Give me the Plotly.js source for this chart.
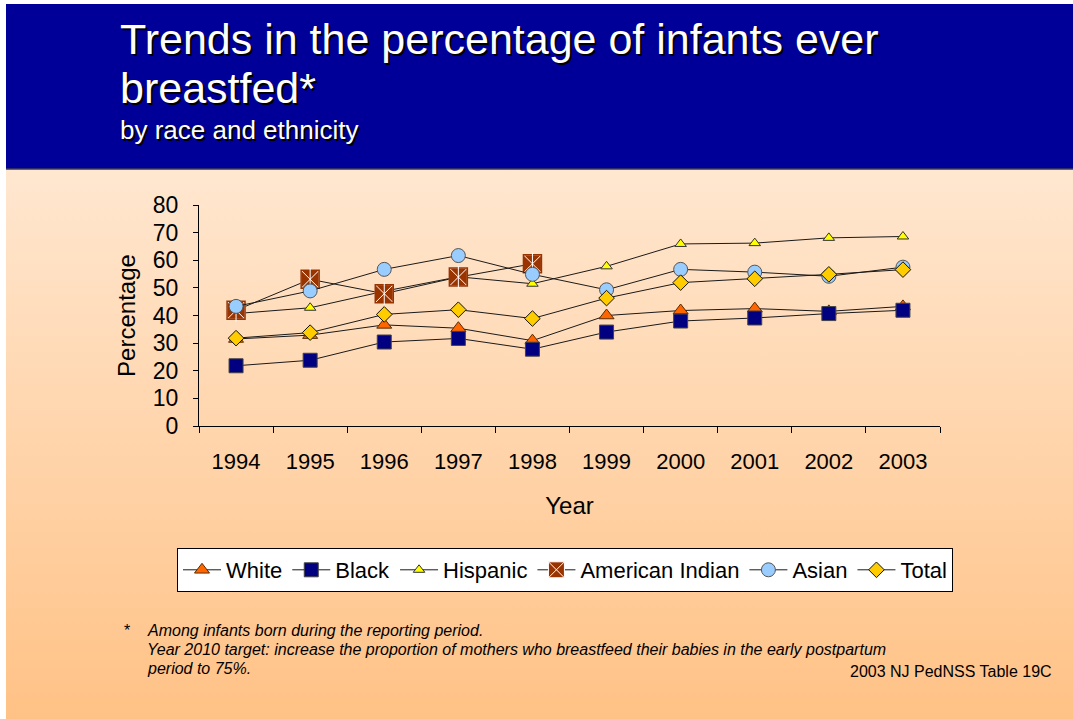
<!DOCTYPE html>
<html>
<head>
<meta charset="utf-8">
<script src="https://cdn.plot.ly/plotly-3.0.1.min.js"></script>
<style>
  html, body { margin: 0; padding: 0; background: #ffffff; }
  #wrap { position: relative; width: 1073px; height: 719px; overflow: hidden; }
  #bg { position: absolute; left: 6px; top: 4px; width: 1067px; height: 715px;
        background: linear-gradient(to bottom, #FFE7D0 0px, #FFE7D0 165px, #FFC286 715px); }
  #chart { position: absolute; left: 0; top: 0; width: 1073px; height: 719px; }
</style>
</head>
<body>
<div id="wrap">
  <div id="bg"></div>
  <div id="chart"></div>
</div>
<script>
// Percentage of infants ever breastfed, NJ PedNSS 1994-2003
const years = ['1994', '1995', '1996', '1997', '1998', '1999', '2000', '2001', '2002', '2003'];
const white = [31.5, 32.9, 36.6, 35.4, 30.9, 40.0, 41.8, 42.5, 41.5, 43.3];
const black = [21.8, 23.8, 30.4, 31.7, 27.8, 34.0, 38.0, 39.1, 40.7, 41.9];
const hispanic = [40.7, 42.8, 48.8, 54.0, 51.5, 57.8, 65.9, 66.2, 68.1, 68.6];
const americanIndian = [41.9, 53.1, 47.9, 53.9, 58.7, null, null, null, null, null];
const asian = [43.3, 48.9, 56.7, 61.7, 54.9, 49.3, 56.7, 55.7, 54.2, 57.5];
const total = [31.8, 33.8, 40.4, 42.1, 38.9, 46.3, 51.9, 53.3, 54.9, 56.6];

const W = 1073, H = 719;
const L = 199, R = 940, T = 205, B = 426;
// pixel position -> paper coordinates
const px = x => (x - L) / (R - L);
const py = y => (B - y) / (B - T);

const FONT = '"Liberation Sans", Arial, sans-serif';
const lineStyle = { color: '#1a1a1a', width: 1 };
const AI_BROWN = '#993300';

function series(name, y, symbol, size, fill, edge) {
  return {
    type: 'scatter', mode: 'lines+markers', name: name, x: years, y: y,
    line: lineStyle,
    marker: { symbol: symbol, size: size, color: fill, line: { color: edge, width: 1 } }
  };
}

const traces = [
  series('White', white, 'triangle-up', 13, '#FF6600', '#5a2a00'),
  series('Black', black, 'square', 14, '#000080', '#444444'),
  series('Hispanic', hispanic, 'triangle-up', 10, '#FFFF00', '#333333'),
  // brown square with a white cross
  series('American Indian', americanIndian, 'square-x', 18, AI_BROWN, '#ffffff'),
  // brown rim and white vertical stroke on top of the crossed squares
  { type: 'scatter', mode: 'markers', x: years, y: americanIndian, showlegend: false, hoverinfo: 'skip',
    marker: { symbol: 'square-open', size: 18, color: AI_BROWN, line: { color: AI_BROWN, width: 1.5 } } },
  { type: 'scatter', mode: 'markers', x: years, y: americanIndian, showlegend: false, hoverinfo: 'skip',
    marker: { symbol: 'line-ns-open', size: 16, color: '#ffffff', line: { color: '#ffffff', width: 1 } } },
  series('Asian', asian, 'circle', 14, '#99CCFF', '#555555'),
  series('Total', total, 'diamond', 12, '#FFCC00', '#111111')
];

const titleShadow = '2px 2px 0px #000000';
const annotations = [
  { text: 'Trends in the percentage of infants ever', x: px(118), y: py(39), xanchor: 'left', yanchor: 'middle',
    font: { family: FONT, size: 43, color: '#ffffff', shadow: titleShadow } },
  { text: 'breastfed*', x: px(118), y: py(88), xanchor: 'left', yanchor: 'middle',
    font: { family: FONT, size: 43, color: '#ffffff', shadow: titleShadow } },
  { text: 'by race and ethnicity', x: px(118), y: py(130), xanchor: 'left', yanchor: 'middle',
    font: { family: FONT, size: 26, color: '#ffffff', shadow: titleShadow } },
  { text: '*', x: px(122), y: py(630), xanchor: 'left', yanchor: 'middle',
    font: { family: FONT, size: 16, color: '#000000' } },
  { text: '<i>Among infants born during the reporting period.</i>', x: px(145), y: py(630), xanchor: 'left', yanchor: 'middle',
    font: { family: FONT, size: 16, color: '#000000' } },
  { text: '<i>Year 2010 target: increase the proportion of mothers who breastfeed their babies in the early postpartum</i>',
    x: px(145), y: py(649), xanchor: 'left', yanchor: 'middle',
    font: { family: FONT, size: 16, color: '#000000' } },
  { text: '<i>period to 75%.</i>', x: px(145), y: py(668), xanchor: 'left', yanchor: 'middle',
    font: { family: FONT, size: 16, color: '#000000' } },
  { text: '2003 NJ PedNSS Table 19C', x: px(1054), y: py(671), xanchor: 'right', yanchor: 'middle',
    font: { family: FONT, size: 16, color: '#000000' } }
].map(a => Object.assign({ xref: 'paper', yref: 'paper', showarrow: false, align: 'left' }, a));

const shapes = [
  { type: 'rect', xref: 'paper', yref: 'paper', layer: 'below',
    x0: px(6), x1: px(1074), y0: py(169), y1: py(4),
    fillcolor: '#000099', line: { width: 0 } },
  { type: 'line', xref: 'paper', yref: 'paper', layer: 'below',
    x0: px(6), x1: px(1074), y0: py(169), y1: py(169),
    line: { color: '#3a3a55', width: 1.5 } }
];

const layout = {
  width: W, height: H,
  margin: { l: L, r: W - R, t: T, b: H - B, pad: 0 },
  paper_bgcolor: 'rgba(0,0,0,0)',
  plot_bgcolor: 'rgba(0,0,0,0)',
  font: { family: FONT, color: '#000000' },
  showlegend: true,
  legend: {
    orientation: 'h',
    x: px(177), y: py(548), xanchor: 'left', yanchor: 'top',
    bgcolor: '#ffffff', bordercolor: '#000000', borderwidth: 1,
    font: { family: FONT, size: 22, color: '#000000' },
    traceorder: 'normal', itemwidth: 38, tracegroupgap: 0
  },
  xaxis: {
    type: 'category', range: [-0.5, 9.5], fixedrange: true,
    showline: true, linecolor: '#000000', linewidth: 1,
    ticks: 'outside', tickson: 'boundaries', ticklen: 6, tickcolor: '#000000',
    showgrid: false, zeroline: false,
    tickfont: { family: FONT, size: 22, color: '#000000' },
    ticklabelstandoff: 16,
    title: { text: 'Year', font: { family: FONT, size: 24, color: '#000000' }, standoff: 23 }
  },
  yaxis: {
    range: [0, 80], dtick: 10, fixedrange: true,
    showline: true, linecolor: '#000000', linewidth: 1,
    ticks: 'outside', ticklen: 5, tickcolor: '#000000',
    showgrid: false, zeroline: false,
    tickfont: { family: FONT, size: 23, color: '#000000' },
    ticklabelstandoff: 10,
    title: { text: 'Percentage', font: { family: FONT, size: 24, color: '#000000' }, standoff: 10 }
  },
  annotations: annotations,
  shapes: shapes
};

Plotly.newPlot('chart', traces, layout, { displayModeBar: false, staticPlot: true });
</script>
</body>
</html>
